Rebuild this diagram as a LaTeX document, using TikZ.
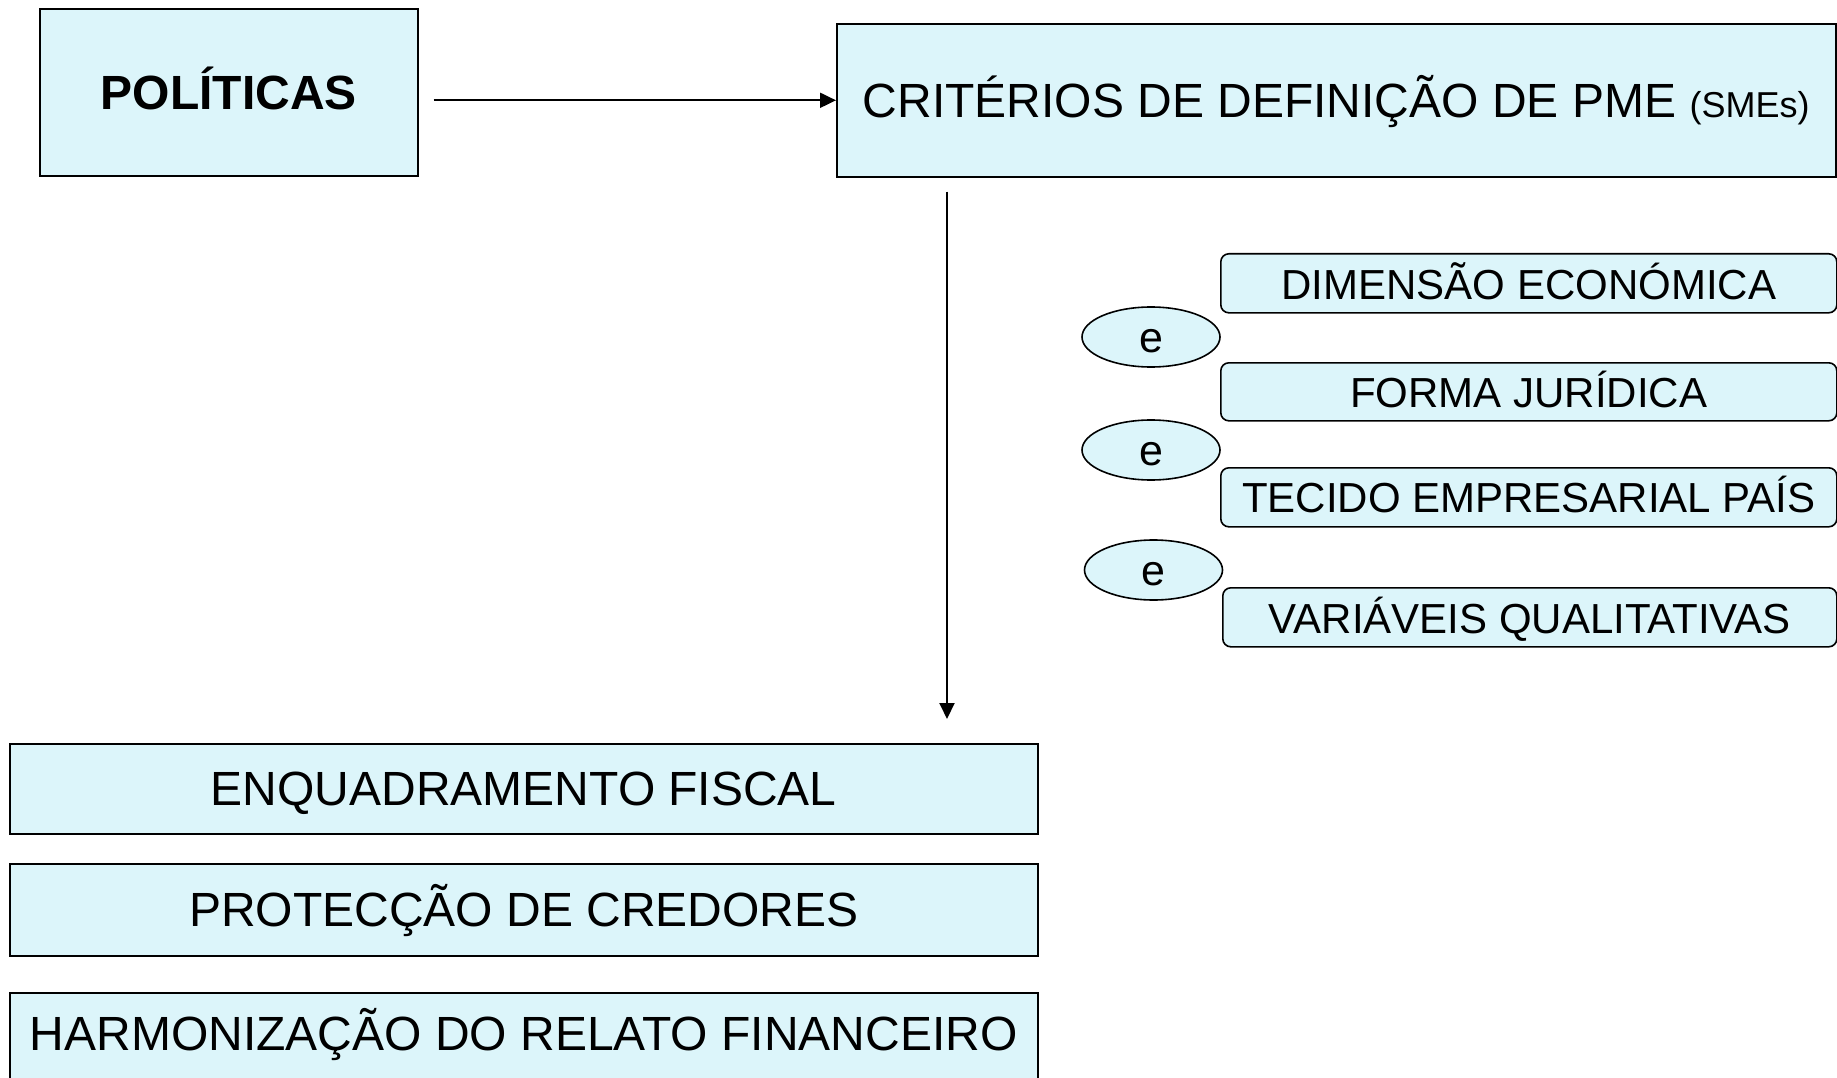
\documentclass[tikz,border=0pt]{standalone}
\usepackage{fontspec}
\setmainfont{Liberation Sans}
\usetikzlibrary{shapes.geometric,arrows.meta}
\definecolor{boxfill}{RGB}{220,245,250}
\begin{document}
\begin{tikzpicture}[x=1pt,y=-1pt,
  box/.style={draw=black, fill=boxfill, line width=1.6pt, inner sep=0pt, anchor=north west},
  big/.style={font=\fontsize{48}{56}\selectfont},
  mid/.style={font=\fontsize{42}{50}\selectfont},
  rbox/.style={box, mid, rounded corners=8pt, minimum width=616pt},
  andell/.style={ellipse, draw=black, fill=boxfill, line width=1.6pt, inner sep=0pt,
    minimum width=138pt, minimum height=60pt, text height=30pt, text depth=0pt,
    font=\fontsize{43}{50}\selectfont},
  arr/.style={line width=2pt, -{Triangle[length=16pt,width=15pt]}}]
\useasboundingbox (0,0) rectangle (1837,1078);

\node[box,big,minimum width=378pt,text height=101pt,text depth=66pt] (pol) at (39,8) {\bfseries POLÍTICAS};
\node[box,big,minimum width=999pt,text height=94pt,text depth=59pt] (crit) at (836,23)
  {CRITÉRIOS DE DEFINIÇÃO DE PME {\fontsize{36}{40}\selectfont (SMEs)}};

\node[rbox,text height=46pt,text depth=13pt] (dim) at (1220,253) {DIMENSÃO ECONÓMICA};
\node[rbox,text height=45pt,text depth=13pt] (forma) at (1220,362) {FORMA JURÍDICA};
\node[rbox,text height=45pt,text depth=14pt] (tecido) at (1220,467) {TECIDO EMPRESARIAL PAÍS};
\node[rbox,minimum width=614pt,text height=46pt,text depth=13pt] (var) at (1222,587) {VARIÁVEIS QUALITATIVAS};

\node[andell] (e1) at (1151,337) {e};
\node[andell] (e2) at (1151,450) {e};
\node[andell] (e3) at (1153.5,570) {e};

\node[box,big,minimum width=1028pt,text height=62pt,text depth=28pt] (enq) at (9,743) {ENQUADRAMENTO FISCAL};
\node[box,big,minimum width=1028pt,text height=63pt,text depth=29pt] (prot) at (9,863) {PROTECÇÃO DE CREDORES};
\node[box,big,minimum width=1028pt,text height=58pt,text depth=40pt] (harm) at (9,992) {HARMONIZAÇÃO DO RELATO FINANCEIRO};

\draw[arr] ([xshift=15pt]pol.east |- crit.west) -- (crit.west);
\draw[arr] ([shift={(111pt,-14pt)}]crit.south west) -- ([shift={(938pt,24pt)}]enq.north west);
\end{tikzpicture}
\end{document}
